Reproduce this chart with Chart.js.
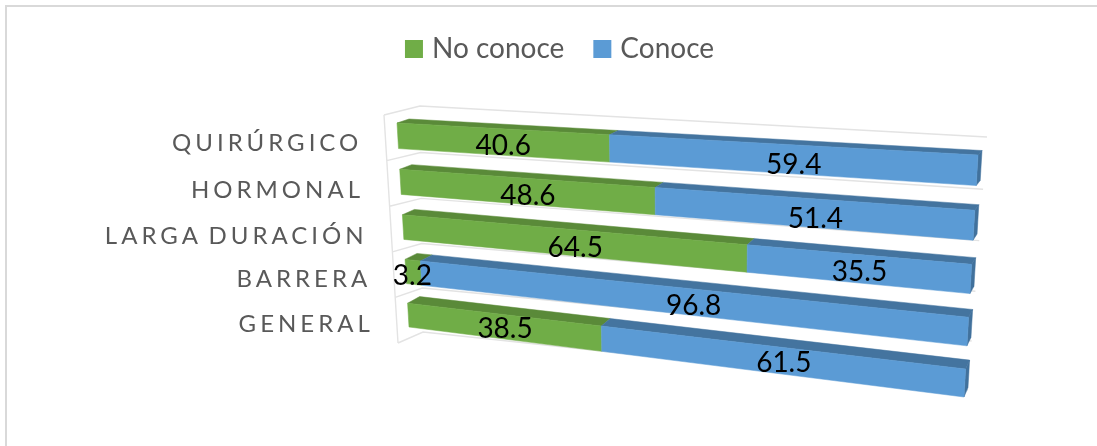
<!DOCTYPE html>
<html><head><meta charset="utf-8">
<style>html,body{margin:0;padding:0;background:#fff}canvas{display:block}</style>
<script src="https://cdn.jsdelivr.net/npm/chart.js@4"></script></head>
<body><canvas id="c" width="1097" height="446"></canvas>
<script>
const categories = ['QUIRÚRGICO','HORMONAL','LARGA DURACIÓN','BARRERA','GENERAL'];
const noConoce = [40.6,48.6,64.5,3.2,38.5];
const conoce = [59.4,51.4,35.5,96.8,61.5];

const BAR_PCT = 0.55;
const sInset = (1-BAR_PCT)/2/categories.length;
function homography(p00,p10,p01,p11){
  const dx1=p10[0]-p11[0],dy1=p10[1]-p11[1],dx2=p01[0]-p11[0],dy2=p01[1]-p11[1];
  const sx=p00[0]-p10[0]+p11[0]-p01[0],sy=p00[1]-p10[1]+p11[1]-p01[1];
  const D=dx1*dy2-dx2*dy1,g=(sx*dy2-sy*dx2)/D,h=(dx1*sy-sx*dy1)/D;
  const a=p10[0]-p00[0]+g*p10[0],b=p01[0]-p00[0]+h*p01[0],c=p00[0];
  const d=p10[1]-p00[1]+g*p10[1],e=p01[1]-p00[1]+h*p01[1],f=p00[1];
  return (t,s)=>{const w=g*t+h*s+1;return [(a*t+b*s+c)/w,(d*t+e*s+f)/w];};
}
const frontPlane = homography([397,123],[978,155],[409,327],[964,397]);
const wallPlane = homography([420,106],[987,137],[423,332],[968,390]);
const EASE=1.015;
const project = (t,s)=>frontPlane(t*EASE/(1+(EASE-1)*t),(s-sInset)/(1-2*sInset));
function depthOf(t,s){const v=(s-sInset)/(1-2*sInset);return [12-8*t,-(4+3*v+t*(0.5+2*v))];}
const back=(t,s)=>{const p=project(t,s),o=depthOf(t,s);return [p[0]+o[0],p[1]+o[1]];};
const frontWallLeft=s=>[384+14*s,115+228*s];

function quad(ctx,pts,col){
  ctx.beginPath();pts.forEach((p,i)=>i?ctx.lineTo(p[0],p[1]):ctx.moveTo(p[0],p[1]));ctx.closePath();
  ctx.fillStyle=col;ctx.fill();ctx.strokeStyle=col;ctx.lineWidth=0.5;ctx.stroke();
}
const faceColors=[{front:'#70AD47',top:'#5A8A39'},{front:'#5B9BD5',top:'#44749F'}];
const LABEL_SHIFT=[5,4.5];
const labelNudge={'0:0':[-2,0],'1:0':[5,2],'1:1':[3,2],'0:2':[4,1],'1:2':[-1,-1],'0:3':[-6,-1],'1:3':[16,1.5],'0:4':[-2,-2],'1:4':[5,-1]};
const catNudge=[[-2.5,0.5],[-3.5,1],[-2.5,2],[-1.5,1],[-1.5,2]];
const perspective={
  id:'perspective',
  beforeDraw(chart){
    const ctx=chart.ctx;ctx.save();
    ctx.strokeStyle='#D9D9D9';ctx.lineWidth=2;
    ctx.beginPath();ctx.moveTo(6,446);ctx.lineTo(6,6);ctx.lineTo(1097,6);ctx.stroke();
    ctx.restore();
  },
  beforeDatasetsDraw(chart){
    const ctx=chart.ctx,a=chart.chartArea,W=a.right-a.left,H=a.bottom-a.top;
    const T=x=>(x-a.left)/W,S=y=>(y-a.top)/H;
    ctx.save();
    ctx.strokeStyle='#E3E3E3';ctx.lineWidth=1.4;
    ctx.beginPath();
    for(let j=0;j<=categories.length;j++){
      const s=j/categories.length,f=frontWallLeft(s),l=wallPlane(0,s),r=wallPlane(1,s);
      ctx.moveTo(f[0],f[1]);ctx.lineTo(l[0],l[1]);ctx.lineTo(r[0],r[1]);
    }
    let p=frontWallLeft(0);ctx.moveTo(p[0],p[1]);p=frontWallLeft(1);ctx.lineTo(p[0],p[1]);
    ctx.stroke();
    const metas=chart.data.datasets.map((_,i)=>chart.getDatasetMeta(i));
    categories.forEach((_,i)=>{
      const last=metas[metas.length-1].data[i];
      const s0=S(last.y-last.height/2),s1=S(last.y+last.height/2);
      metas.forEach((m,d)=>{
        const el=m.data[i],t0=T(el.base),t1=T(el.x);
        quad(ctx,[project(t0,s0),project(t1,s0),back(t1,s0),back(t0,s0)],faceColors[d].top);
      });
      const tEnd=T(last.x);
      quad(ctx,[project(tEnd,s0),back(tEnd,s0),back(tEnd,s1),project(tEnd,s1)],'#41719C');
      metas.forEach((m,d)=>{
        const el=m.data[i],t0=T(el.base),t1=T(el.x);
        quad(ctx,[project(t0,s0),project(t1,s0),project(t1,s1),project(t0,s1)],faceColors[d].front);
      });
    });
    ctx.letterSpacing='0px';
    ctx.fillStyle='#000';ctx.font='28px Lato';ctx.textAlign='center';ctx.textBaseline='middle';
    metas.forEach((m,d)=>m.data.forEach((el,i)=>{
      const c=project(T((el.base+el.x)/2),S(el.y)),n=labelNudge[d+':'+i]||[0,0];
      ctx.fillText(String(chart.data.datasets[d].data[i]),c[0]+LABEL_SHIFT[0]+n[0],c[1]+LABEL_SHIFT[1]+n[1]);
    }));
    const ys=chart.scales.y;
    ctx.fillStyle='#595959';ctx.font='24px Lato';ctx.textAlign='right';ctx.letterSpacing='4px';ctx.wordSpacing='-3.5px';
    categories.forEach((lab,i)=>{
      const c=project(0,S(ys.getPixelForTick(i)));
      ctx.fillText(lab,c[0]-33+catNudge[i][0],c[1]+7+catNudge[i][1]);
    });
    ctx.restore();
    return false;
  }
};
const canvas=document.getElementById('c');
canvas.getContext('2d').letterSpacing='0.55px';
new Chart(canvas,{
  type:'bar',
  data:{labels:categories,datasets:[
    {label:'No conoce',data:noConoce,backgroundColor:'#70AD47',stack:'a'},
    {label:'Conoce',data:conoce,backgroundColor:'#5B9BD5',stack:'a'}
  ]},
  plugins:[perspective],
  options:{
    indexAxis:'y',responsive:false,animation:false,
    layout:{padding:{top:1,left:27,right:0,bottom:20}},
    datasets:{bar:{barPercentage:BAR_PCT,categoryPercentage:1}},
    scales:{
      x:{stacked:true,min:0,max:100,display:false},
      y:{stacked:true,display:false}
    },
    plugins:{
      tooltip:{enabled:false},
      legend:{position:'top',labels:{color:'#595959',font:{family:'Lato',size:28},usePointStyle:true,pointStyle:'rect',boxWidth:8,boxHeight:18,padding:34}}
    }
  }
});
</script></body></html>
